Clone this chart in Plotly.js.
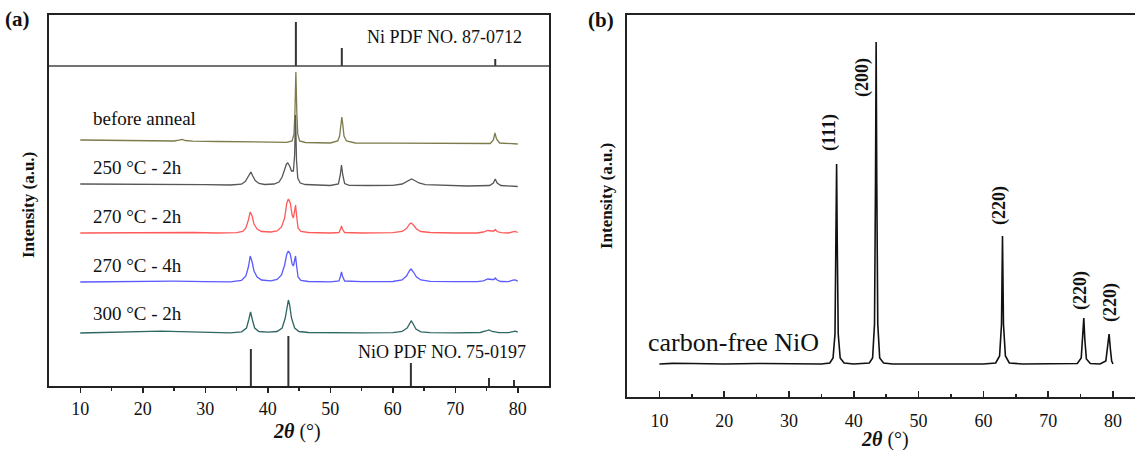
<!DOCTYPE html>
<html><head><meta charset="utf-8">
<script src="https://cdn.plot.ly/plotly-3.0.1.min.js"></script>
<style>html,body{margin:0;padding:0;background:#fff}</style>
</head><body>
<div id="chart" style="width:1135px;height:450px"></div>
<script>
// ---------- DATA ----------
// Panel (a): intensities relative to each pattern's own baseline, [2theta, I]
const beforeAnneal = [[10,2],[14,1.8],[18,1.5],[22,1.2],[25,1],[25.8,1.8],[26.3,2.6],[26.8,1.5],[28,0.8],[32,0.5],[36,0],[40,-0.3],[43,-0.3],[43.9,1],[44.2,8],[44.35,30],[44.5,70],[44.65,30],[44.8,8],[45.1,1],[46,-0.5],[50,-1],[51.2,1],[51.5,6],[51.7,20],[51.85,25],[52,18],[52.2,6],[52.6,1],[54,-1],[60,-1.2],[66,-1.5],[72,-1.8],[75.6,-1.5],[76.1,2],[76.35,9],[76.6,3],[77.1,-1],[80,-2]];
const anneal250_2h = [[10,1],[15,1],[20,0.8],[25,0.8],[30,0.3],[34,0],[35.8,0.8],[36.4,3.5],[36.8,8],[37.1,12],[37.3,13],[37.6,9],[38,4.5],[38.6,1.5],[39.5,0.5],[41,1],[41.8,3],[42.3,8],[42.7,15],[43,21],[43.2,22],[43.5,19],[43.8,14],[44.1,14],[44.3,30],[44.45,70],[44.6,25],[44.8,7],[45.2,2],[46,0.5],[48,0],[50,-0.5],[51.3,1],[51.6,10],[51.8,20],[52,10],[52.3,1.5],[53,-0.3],[56,-0.5],[60,-0.3],[61.5,1],[62.2,3.5],[62.7,5.5],[63,6],[63.5,4.5],[64.2,2],[65.2,0.3],[68,-0.5],[72,-1],[75.5,-0.5],[76.1,2],[76.4,6],[76.7,2],[77.3,-0.5],[80,-1.5]];
const anneal270_2h = [[10,0],[15,0.3],[20,0.5],[25,1],[28,0.5],[32,0],[35,0.3],[36,1.5],[36.5,5],[36.9,13],[37.2,21],[37.5,17],[37.8,9],[38.3,4],[39,1.5],[40.5,1],[41.5,2],[42.2,6],[42.7,15],[43.05,30],[43.3,34],[43.6,30],[43.9,18],[44.1,15],[44.3,22],[44.45,28],[44.6,18],[44.85,5],[45.3,1.5],[46.5,0.5],[50,0],[51.4,0.5],[51.65,4],[51.8,7],[51.95,4],[52.3,0.5],[55,0],[60,0.3],[61.5,1.5],[62.2,4.5],[62.7,9],[62.95,10],[63.3,8],[63.8,4],[64.5,1.5],[66,0.5],[70,0],[73.5,0],[74.5,1],[75.2,2.5],[75.8,2],[76.2,2],[76.4,3.5],[76.7,1.5],[77.3,0.3],[78.5,0],[79.2,1.2],[79.6,1.5],[80,0.5]];
const anneal270_4h = [[10,0],[15,0.5],[20,0.6],[25,0.8],[30,0.4],[34,0.2],[35.8,1.5],[36.5,6],[36.9,15],[37.2,26],[37.5,20],[37.8,11],[38.3,5],[39,2],[40.5,1.2],[41.5,2.5],[42.2,7],[42.7,17],[43.05,28],[43.3,31],[43.6,28],[43.9,18],[44.1,16],[44.3,22],[44.45,26],[44.6,17],[44.85,5],[45.3,1.5],[46.5,0.5],[50,0.2],[51.4,1],[51.65,6],[51.8,10],[51.95,6],[52.3,1],[55,0.3],[60,0.5],[61.5,2],[62.2,6],[62.7,11.5],[62.95,13],[63.3,10],[63.8,5],[64.5,2],[66,0.6],[70,0.3],[73.5,0.3],[74.5,1.2],[75.2,3],[75.8,2.5],[76.2,2.5],[76.4,4],[76.7,2],[77.3,0.5],[78.5,0.3],[79.2,1.8],[79.6,2],[80,0.8]];
const anneal300_2h = [[10,0],[13,0.3],[17,0.8],[20,1.2],[23,1.8],[26,1.3],[30,0.4],[34,0.2],[35.8,1.2],[36.6,5],[36.95,13],[37.25,21],[37.55,13],[37.9,5],[38.6,1.5],[40,0.8],[41.5,1.5],[42.3,5],[42.8,15],[43.1,28],[43.3,33],[43.5,28],[43.8,15],[44.3,5],[45,1.5],[46.5,0.5],[50,0.2],[55,0.2],[60,0.3],[61.5,1.5],[62.3,5],[62.75,11],[62.95,12],[63.2,10],[63.7,4],[64.5,1.2],[66,0.4],[70,0.2],[74,0.5],[74.9,2],[75.4,3],[75.9,1.5],[77,0.3],[78.5,0.3],[79.2,1.5],[79.6,1.8],[80,0.8]];
const seriesLabels = ["before anneal","250 °C - 2h","270 °C - 2h","270 °C - 4h","300 °C - 2h"];

// Reference patterns (stick positions and heights)
const niPdfPos = [44.5, 51.85, 76.4];
const niPdfHeight = [44, 18, 7];
const nioPdfPos = [37.3, 43.3, 62.9, 75.4, 79.4];
const nioPdfHeight = [37, 50, 23, 8, 6];
const niPdfLabel = "Ni PDF NO. 87-0712";
const nioPdfLabel = "NiO PDF NO. 75-0197";

// Panel (b): carbon-free NiO, [2theta, I]
const carbonFreeNiO = [[10,0],[12,0.6],[15,0.5],[18,0.2],[20,0],[25,0.5],[30,0],[35,0],[36.3,1],[36.8,6],[37.1,30],[37.25,120],[37.35,200],[37.45,120],[37.6,30],[37.9,6],[38.5,1],[40,0],[42.4,1],[42.9,6],[43.2,40],[43.35,180],[43.45,322],[43.55,180],[43.7,40],[44,6],[44.6,1],[46,0],[50,0.3],[55,0],[60,0],[61.9,1],[62.5,8],[62.8,40],[62.95,128],[63.1,40],[63.4,8],[64,1],[66,0],[70,0.3],[74.5,0.5],[75.1,6],[75.35,30],[75.5,46],[75.65,25],[75.9,5],[76.5,0.5],[78,0],[78.9,3],[79.2,18],[79.4,30],[79.6,15],[79.8,3],[80,0]];
const peakLabels = ["(111)","(200)","(220)","(220)","(220)"];
const sampleLabel = "carbon-free NiO";
const xTicks = [10,20,30,40,50,60,70,80];

// ---------- LAYOUT HELPERS ----------
const W = 1135, H = 450;
const px = x => x / W, py = y => 1 - y / H;
const FONT = "'Liberation Serif', 'DejaVu Serif', serif";

// stacking offsets for panel (a) (positions, not data)
const offsets = [244, 201, 153, 104, 53];
const colors = ["#7b7b4c", "#575757", "#ff5a5a", "#5a5aff", "#2f6563"];
const series = [beforeAnneal, anneal250_2h, anneal270_2h, anneal270_4h, anneal300_2h];
const dividerY = 320;

const traces = [];
series.forEach((s, i) => {
  traces.push({
    x: s.map(p => p[0]), y: s.map(p => p[1] + offsets[i]),
    type: "scatter", mode: "lines", xaxis: "x", yaxis: "y",
    line: {color: colors[i], width: 1.3}, hoverinfo: "skip", showlegend: false
  });
});
function sticks(pos, hts, base) {
  const x = [], y = [];
  pos.forEach((p, i) => { x.push(p, p, null); y.push(base, base + hts[i], null); });
  return {x, y};
}
const niS = sticks(niPdfPos, niPdfHeight, dividerY);
traces.push({x: niS.x, y: niS.y, type: "scatter", mode: "lines", xaxis: "x", yaxis: "y",
  line: {color: "#333", width: 2}, hoverinfo: "skip", showlegend: false});
const nioS = sticks(nioPdfPos, nioPdfHeight, 0);
traces.push({x: nioS.x, y: nioS.y, type: "scatter", mode: "lines", xaxis: "x", yaxis: "y",
  line: {color: "#333", width: 2}, hoverinfo: "skip", showlegend: false});

const baseB = 33;
traces.push({x: carbonFreeNiO.map(p => p[0]), y: carbonFreeNiO.map(p => p[1] + baseB),
  type: "scatter", mode: "lines", xaxis: "x2", yaxis: "y2",
  line: {color: "#111", width: 1.6}, hoverinfo: "skip", showlegend: false});

const ann = [];
function txt(text, x, y, size, opts) {
  ann.push(Object.assign({text, x: px(x), y: py(y), xref: "paper", yref: "paper",
    showarrow: false, font: {family: FONT, size, color: "#111"}, xanchor: "left", yanchor: "middle"}, opts || {}));
}
// panel (a) texts
txt("<b>(a)</b>", 3, 19, 21);
txt(niPdfLabel, 524, 37, 18, {xanchor: "right"});
const labY = [118, 168, 216, 265, 313];
seriesLabels.forEach((l, i) => txt(l, 91, labY[i], 19));
txt(nioPdfLabel, 528, 352, 18, {xanchor: "right"});
txt("<b>Intensity (a.u.)</b>", 29, 205, 17, {xanchor: "center", textangle: -90});
txt("<b><i>2θ</i></b> (°)", 297, 431, 20, {xanchor: "center"});
// panel (b) texts
txt("<b>(b)</b>", 586, 20, 21);
txt("<b>Intensity (a.u.)</b>", 607, 196, 17, {xanchor: "center", textangle: -90});
txt("<b><i>2θ</i></b> (°)", 885, 439, 20, {xanchor: "center"});
txt(sampleLabel, 646, 342, 26);
const peakLabXY = [[829, 133], [862, 78], [999, 206], [1080, 291], [1110, 303]];
peakLabels.forEach((l, i) => txt("<b>" + l + "</b>", peakLabXY[i][0], peakLabXY[i][1], 18, {xanchor: "center", textangle: -90}));

const axLine = {showline: true, linecolor: "#222", linewidth: 2, zeroline: false, showgrid: false};
const layout = {
  width: W, height: H, margin: {l: 0, r: 0, t: 0, b: 0},
  paper_bgcolor: "#fff", plot_bgcolor: "rgba(0,0,0,0)",
  font: {family: FONT, size: 18, color: "#111"},
  xaxis: Object.assign({}, axLine, {domain: [px(49), px(549)], range: [5, 85], anchor: "y",
    mirror: true, ticks: "outside", ticklen: 5, tickwidth: 1.5, tickcolor: "#222",
    tickvals: xTicks, tickfont: {size: 18, family: FONT},
    minor: {tickvals: [15,25,35,45,55,65,75], ticks: "outside", ticklen: 3, tickwidth: 1.5, tickcolor: "#222"}}),
  yaxis: Object.assign({}, axLine, {domain: [py(386), py(15)], range: [0, 371], anchor: "x",
    mirror: true, ticks: "", showticklabels: false}),
  xaxis2: Object.assign({}, axLine, {domain: [px(627), 1], range: [5, 83.4], anchor: "y2",
    mirror: true, ticks: "inside", ticklen: 6, tickwidth: 1.5, tickcolor: "#222",
    tickvals: xTicks, tickfont: {size: 18, family: FONT}, ticklabelstandoff: 6,
    minor: {tickvals: [15,25,35,45,55,65,75], ticks: "inside", ticklen: 3, tickwidth: 1.5, tickcolor: "#222"}}),
  yaxis2: Object.assign({}, axLine, {domain: [py(397), py(15)], range: [0, 382], anchor: "x2",
    ticks: "", showticklabels: false}),
  shapes: [{type: "line", xref: "x domain", yref: "y", x0: 0, x1: 1, y0: dividerY, y1: dividerY,
    line: {color: "#444", width: 1.5}}],
  annotations: ann
};
Plotly.newPlot("chart", traces, layout, {staticPlot: true, displayModeBar: false});
</script>
</body></html>
